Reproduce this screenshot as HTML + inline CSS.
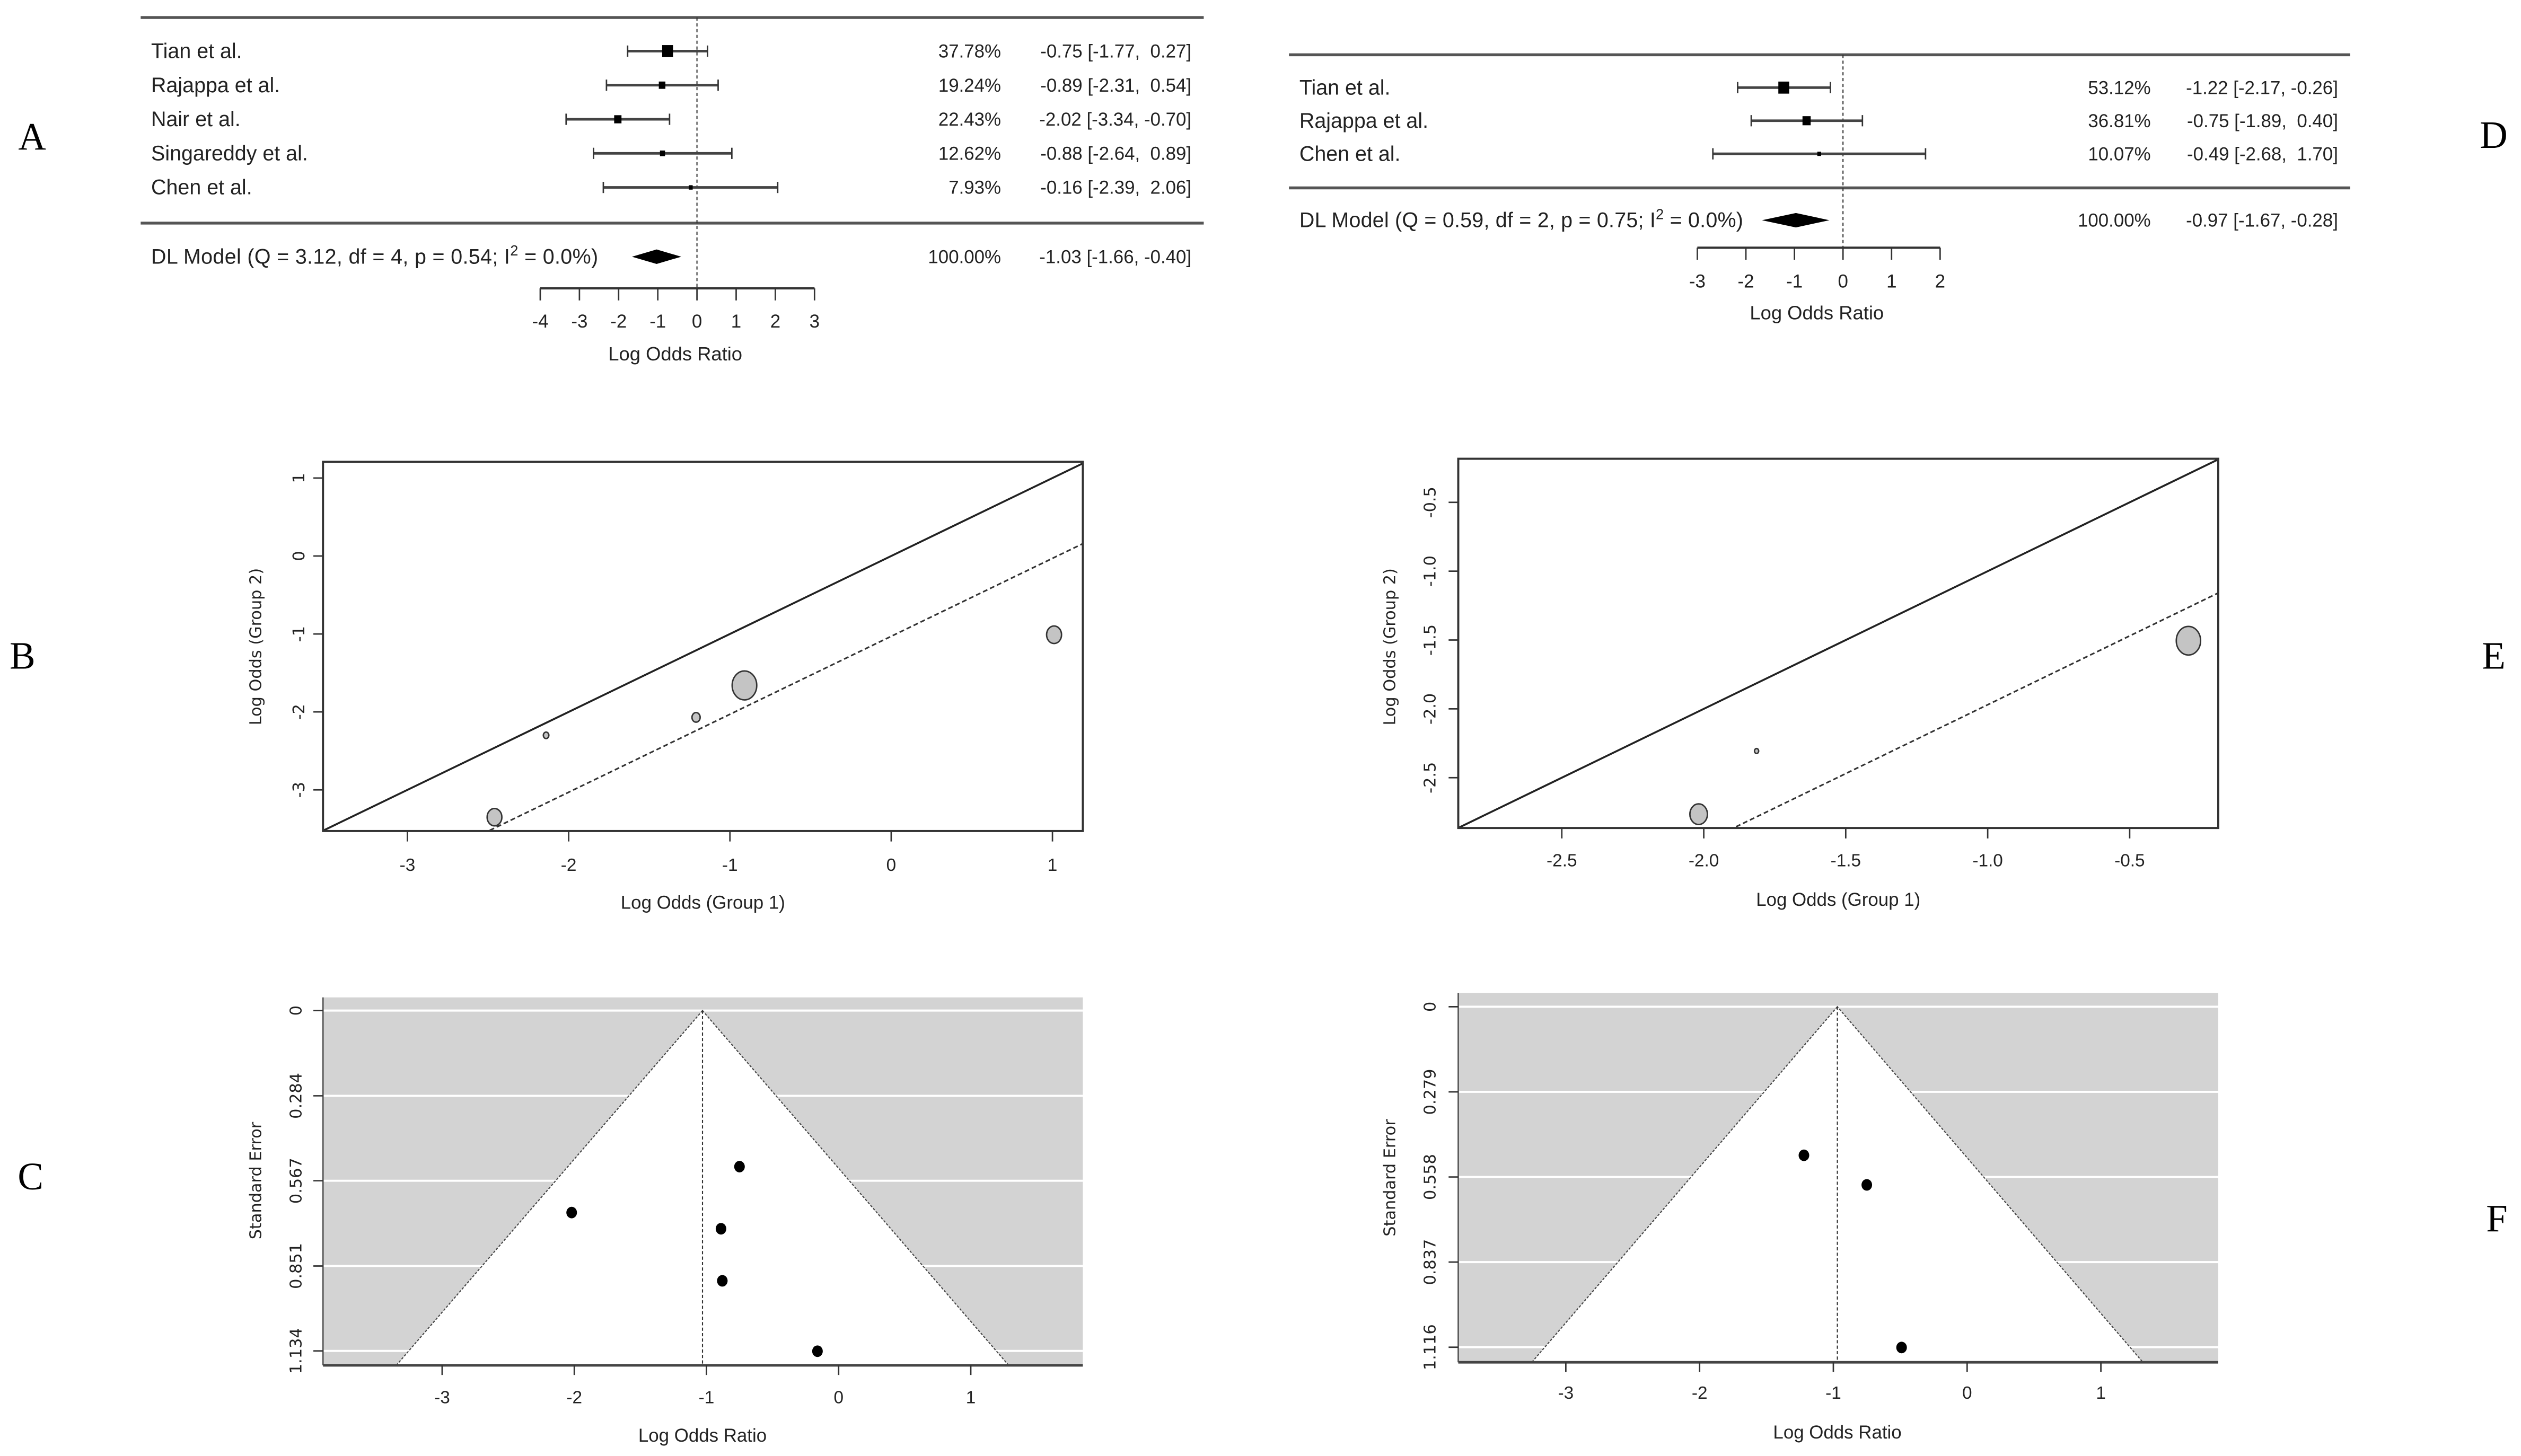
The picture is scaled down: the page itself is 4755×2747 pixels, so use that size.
<!DOCTYPE html>
<html><head><meta charset="utf-8"><style>
html,body{margin:0;padding:0;background:#fff;}
svg{display:block;}
text{font-family:"Liberation Sans",sans-serif;fill:#222;}
.ser{font-family:"Liberation Serif",serif;fill:#000;}
.dv{font-family:"DejaVu Sans","Liberation Sans",sans-serif;}
</style></head><body>
<svg id="fig" xmlns="http://www.w3.org/2000/svg" width="4755" height="2747" viewBox="0 0 1568 905.8" preserveAspectRatio="none">
<rect x="0" y="0" width="1568" height="905.8" fill="#fff"/>
<text class="ser" x="20" y="93" font-size="24" text-anchor="middle">A</text>
<text class="ser" x="14" y="416" font-size="24" text-anchor="middle">B</text>
<text class="ser" x="19" y="740" font-size="24" text-anchor="middle">C</text>
<text class="ser" x="1551" y="92" font-size="24" text-anchor="middle">D</text>
<text class="ser" x="1551" y="416" font-size="24" text-anchor="middle">E</text>
<text class="ser" x="1553" y="766" font-size="24" text-anchor="middle">F</text>
</svg>
<script>
// ---------- DATA ----------
const studiesA = ["Tian et al.","Rajappa et al.","Nair et al.","Singareddy et al.","Chen et al."];
const estA = [-0.75,-0.89,-2.02,-0.88,-0.16];
const lowA = [-1.77,-2.31,-3.34,-2.64,-2.39];
const highA = [0.27,0.54,-0.70,0.89,2.06];
const weightA = [37.78,19.24,22.43,12.62,7.93];
const pooledA = [-1.03,-1.66,-0.40];
const modelA = "DL Model (Q = 3.12, df = 4, p = 0.54; I";
const ticksA = [-4,-3,-2,-1,0,1,2,3];

const studiesD = ["Tian et al.","Rajappa et al.","Chen et al."];
const estD = [-1.22,-0.75,-0.49];
const lowD = [-2.17,-1.89,-2.68];
const highD = [-0.26,0.40,1.70];
const weightD = [53.12,36.81,10.07];
const pooledD = [-0.97,-1.67,-0.28];
const modelD = "DL Model (Q = 0.59, df = 2, p = 0.75; I";
const ticksD = [-3,-2,-1,0,1,2];

const g1B = [-2.46,-2.14,-1.21,-0.91,1.01];
const g2B = [-3.35,-2.30,-2.07,-1.66,-1.01];
const wB = [36,5,11,100,37];
const xTicksB = [-3,-2,-1,0,1];
const yTicksB = [-3,-2,-1,0,1];

const g1E = [-2.018,-1.814,-0.293];
const g2E = [-2.765,-2.306,-1.505];
const wE = [52,3,100];
const xTicksE = [-2.5,-2.0,-1.5,-1.0,-0.5];
const yTicksE = [-2.5,-2.0,-1.5,-1.0,-0.5];

const seC = [0.520,0.727,0.673,0.9005,1.135];
const seTicksC = ["0","0.284","0.567","0.851","1.134"];
const xTicksC = [-3,-2,-1,0,1];
const seD = [0.487,0.584,1.117];
const seTicksF = ["0","0.279","0.558","0.837","1.116"];
const xTicksF = [-3,-2,-1,0,1];

// ---------- HELPERS ----------
const NS = "http://www.w3.org/2000/svg";
const svg = document.getElementById('fig');
function mk(tag, parent, attrs){
  const e = document.createElementNS(NS, tag);
  for (const k in attrs) e.setAttribute(k, attrs[k]);
  (parent||svg).appendChild(e);
  return e;
}
function ciStr(e,l,h){
  const es=(e<0?'-':'')+Math.abs(e).toFixed(2);
  const ls=(l<0?'-':'')+Math.abs(l).toFixed(2);
  const hs=(h<0?'-':' ')+Math.abs(h).toFixed(2);
  return es+' ['+ls+', '+hs+']';
}

// ---------- FOREST ----------
function forest(cfg){
  const g = mk('g', svg, {});
  
  
  const X = v => cfg.x0 + v*cfg.unit;
  const maxW = Math.max(...cfg.w);
  let l = mk('line', g, {x1:cfg.lx1,x2:cfg.lx2,y1:cfg.top,y2:cfg.top,stroke:'#555','stroke-width':1.8});
  
  
  l = mk('line', g, {x1:cfg.lx1,x2:cfg.lx2,y1:cfg.sep,y2:cfg.sep,stroke:'#555','stroke-width':1.8});
  
  
  l = mk('line', g, {x1:X(0),x2:X(0),y1:cfg.top,y2:cfg.axis,stroke:'#333','stroke-width':0.7,'stroke-dasharray':'2,1.6'});
  
  
  cfg.names.forEach((n,i)=>{
    const y = cfg.row0 + i*cfg.step;
    let t = mk('text', g, {x:cfg.nameX, y:y+4.3, 'font-size':13});
    t.textContent = n;
    
    
    let ci = mk('line', g, {x1:X(cfg.lo[i]),x2:X(cfg.hi[i]),y1:y,y2:y,stroke:'#444','stroke-width':1.6});
    
    
    [cfg.lo[i],cfg.hi[i]].forEach(v=>{
      const c = mk('line', g, {x1:X(v),x2:X(v),y1:y-3.5,y2:y+3.5,stroke:'#333','stroke-width':0.9});
      
      
    });
    const s = 1.5 + 6*cfg.w[i]/maxW;
    const sq = mk('rect', g, {x:X(cfg.est[i])-s*0.45, y:y-s/2, width:s*0.9, height:s, fill:'#000'});
    
    
    t = mk('text', g, {x:cfg.pctX, y:y+4, 'font-size':11.5, 'text-anchor':'end'});
    t.textContent = cfg.w[i].toFixed(2)+'%';
    
    
    t = mk('text', g, {x:cfg.ciX, y:y+4, 'font-size':11.5, 'text-anchor':'end', style:'white-space:pre'});
    t.textContent = ciStr(cfg.est[i],cfg.lo[i],cfg.hi[i]);
    
    
  });
  const y = cfg.dl;
  let t = mk('text', g, {x:cfg.nameX, y:y+4.3, 'font-size':13, style:'white-space:pre', textLength:cfg.modelLen, lengthAdjust:'spacing'});
  t.textContent = cfg.model;
  const sup = mk('tspan', t, {dy:-5,'font-size':9});
  sup.textContent = '2';
  const rest = mk('tspan', t, {dy:5});
  rest.textContent = ' = 0.0%)';
  
  
  const p = cfg.pooled;
  const d = mk('polygon', g, {points:`${X(p[1])},${y} ${X(p[0])},${y-4.5} ${X(p[2])},${y} ${X(p[0])},${y+4.5}`, fill:'#000'});
  
  
  t = mk('text', g, {x:cfg.pctX, y:y+4, 'font-size':11.5, 'text-anchor':'end'});
  t.textContent = '100.00%';
  
  
  t = mk('text', g, {x:cfg.ciX, y:y+4, 'font-size':11.5, 'text-anchor':'end', style:'white-space:pre'});
  t.textContent = ciStr(p[0],p[1],p[2]);
  
  
  const tk = cfg.ticks;
  l = mk('line', g, {x1:X(tk[0]),x2:X(tk[tk.length-1]),y1:cfg.axis,y2:cfg.axis,stroke:'#333','stroke-width':1.4});
  
  
  tk.forEach(v=>{
    const m = mk('line', g, {x1:X(v),x2:X(v),y1:cfg.axis,y2:cfg.axis+7.5,stroke:'#333','stroke-width':0.9});
    
    
    const tl = mk('text', g, {x:X(v), y:cfg.tickY+4, 'font-size':11.5, 'text-anchor':'middle'});
    tl.textContent = v<0?('-'+Math.abs(v)):String(v);
    
    
  });
  t = mk('text', g, {x:cfg.titleX, y:cfg.titleY+4, 'font-size':12, 'text-anchor':'middle'});
  t.textContent = 'Log Odds Ratio';
  
  
}
forest({name:'forest-plot-a', names:studiesA, est:estA, lo:lowA, hi:highA, w:weightA, pooled:pooledA, model:modelA, ticks:ticksA, modelLen:278,
  x0:433.5, unit:24.37, lx1:87.5, lx2:748.7, top:10.9, row0:31.8, step:21.2, sep:138.8, dl:159.7, axis:179.4, tickY:199.8, titleY:220.3, titleX:420,
  nameX:94, pctX:622.6, ciX:741});
forest({name:'forest-plot-d', names:studiesD, est:estD, lo:lowD, hi:highD, w:weightD, pooled:pooledD, model:modelD, ticks:ticksD, modelLen:276,
  x0:1146.3, unit:30.2, lx1:801.7, lx2:1461.7, top:34.1, row0:54.5, step:20.6, sep:116.9, dl:137, axis:154.1, tickY:174.9, titleY:194.6, titleX:1130,
  nameX:808.2, pctX:1337.7, ciX:1454.2});

// ---------- L'ABBE ----------
function labbe(cfg){
  const g = mk('g', svg, {});
  
  
  const X = v => cfg.xz + v*cfg.xu;
  const Y = v => cfg.yz - v*cfg.yu;
  const cid = cfg.name+'-clip';
  const cp = mk('clipPath', g, {id:cid});
  mk('rect', cp, {x:cfg.L,y:cfg.T,width:cfg.R-cfg.L,height:cfg.B-cfg.T});
  const v0 = (cfg.L-cfg.xz)/cfg.xu, v1 = (cfg.R-cfg.xz)/cfg.xu;
  let l = mk('line', g, {x1:X(v0),y1:Y(v0),x2:X(v1),y2:Y(v1),stroke:'#222','stroke-width':1.2,'clip-path':`url(#${cid})`});
  
  
  l = mk('line', g, {x1:X(v0),y1:Y(v0+cfg.pooled),x2:X(v1),y2:Y(v1+cfg.pooled),stroke:'#333','stroke-width':1,'stroke-dasharray':'3,1.8','clip-path':`url(#${cid})`});
  
  
  cfg.g1.forEach((v,i)=>{
    const r = cfg.rmax*Math.sqrt(cfg.w[i]/100);
    const c = mk('ellipse', g, {cx:X(v),cy:Y(cfg.g2[i]),rx:r*0.85,ry:r,fill:'#c4c4c4',stroke:'#333','stroke-width':0.9});
    
    
  });
  const box = mk('rect', g, {x:cfg.L,y:cfg.T,width:cfg.R-cfg.L,height:cfg.B-cfg.T,fill:'none',stroke:'#333','stroke-width':1.3});
  
  
  cfg.xt.forEach(v=>{
    const m = mk('line', g, {x1:X(v),x2:X(v),y1:cfg.B,y2:cfg.B+6.5,stroke:'#333','stroke-width':0.9});
    
    
    const t = mk('text', g, {x:X(v),y:cfg.xlY+4,'font-size':11,'text-anchor':'middle'});
    t.textContent = (v<0?'-':'')+(cfg.dec?Math.abs(v).toFixed(1):Math.abs(v));
    
    
  });
  cfg.yt.forEach(v=>{
    const m = mk('line', g, {x1:cfg.L-6,x2:cfg.L,y1:Y(v),y2:Y(v),stroke:'#333','stroke-width':0.9});
    
    
    const t = mk('text', g, {x:0,y:0,'font-size':10,'text-anchor':'middle',class:'dv',transform:`translate(${cfg.ylX+3.7},${Y(v)}) rotate(-90)`});
    t.textContent = (v<0?'-':'')+(cfg.dec?Math.abs(v).toFixed(1):Math.abs(v));
    
    
  });
  let t = mk('text', g, {x:(cfg.L+cfg.R)/2,y:cfg.xtY+4,'font-size':11.5,'text-anchor':'middle'});
  t.textContent = 'Log Odds (Group 1)';
  
  
  t = mk('text', g, {x:0,y:0,'font-size':10,'text-anchor':'middle',class:'dv',transform:`translate(${cfg.ytX+3.7},${cfg.ytY}) rotate(-90)`});
  t.textContent = 'Log Odds (Group 2)';
  
  
}
labbe({name:'labbe-plot-b', g1:g1B, g2:g2B, w:wB, xt:xTicksB, yt:yTicksB, pooled:pooledA[0], rmax:9, dec:false,
  L:200.9,R:673.5,T:287.3,B:517, xz:554.3,xu:100.3, yz:345.9,yu:48.5, xlY:537.7, xtY:561.4, ylX:185.5, ytX:158.7, ytY:402.3});
labbe({name:'labbe-plot-e', g1:g1E, g2:g2E, w:wE, xt:xTicksE, yt:yTicksE, pooled:pooledD[0], rmax:8.9, dec:true,
  L:907,R:1379.7,T:285.4,B:515.1, xz:1412.9,xu:176.6, yz:269.7,yu:85.65, xlY:535, xtY:559.5, ylX:889.2, ytX:864.1, ytY:402.4});

// ---------- FUNNEL ----------
function funnel(cfg){
  const g = mk('g', svg, {});
  
  
  const X = v => cfg.xz + v*cfg.xu;
  const Y = s => cfg.yz + s*cfg.yu;
  const seB = (cfg.B-cfg.yz)/cfg.yu;
  let r = mk('rect', g, {x:cfg.L,y:cfg.T,width:cfg.R-cfg.L,height:cfg.B-cfg.T,fill:'#d3d3d3'});
  
  
  cfg.seTicks.forEach(s=>{
    const gl = mk('line', g, {x1:cfg.L,x2:cfg.R,y1:Y(+s),y2:Y(+s),stroke:'#fff','stroke-width':1.3});
    
    
  });
  const p = cfg.pooled;
  const tri = mk('polygon', g, {points:`${X(p)},${Y(0)} ${X(p-1.96*seB)},${cfg.B} ${X(p+1.96*seB)},${cfg.B}`, fill:'#fff', stroke:'#444','stroke-width':0.7,'stroke-dasharray':'1.5,1'});
  
  
  let l = mk('line', g, {x1:X(p),x2:X(p),y1:Y(0),y2:cfg.B,stroke:'#333','stroke-width':0.7,'stroke-dasharray':'2,1.4'});
  
  
  cfg.est.forEach((v,i)=>{
    const c = mk('ellipse', g, {cx:X(v),cy:Y(cfg.se[i]),rx:3.3,ry:3.6,fill:'#000'});
    
    
  });
  l = mk('line', g, {x1:cfg.L,x2:cfg.L,y1:cfg.T,y2:cfg.B,stroke:'#555','stroke-width':0.9});
  
  
  l = mk('line', g, {x1:cfg.L,x2:cfg.R,y1:cfg.B,y2:cfg.B,stroke:'#444','stroke-width':1.6});
  
  
  cfg.xt.forEach(v=>{
    const m = mk('line', g, {x1:X(v),x2:X(v),y1:cfg.B,y2:cfg.B+6,stroke:'#333','stroke-width':0.9});
    
    
    const t = mk('text', g, {x:X(v),y:cfg.xlY+4,'font-size':11,'text-anchor':'middle'});
    t.textContent = v<0?('-'+Math.abs(v)):String(v);
    
    
  });
  cfg.seTicks.forEach(s=>{
    const m = mk('line', g, {x1:cfg.L-6,x2:cfg.L,y1:Y(+s),y2:Y(+s),stroke:'#333','stroke-width':0.9});
    
    
    const t = mk('text', g, {x:0,y:0,'font-size':10,'text-anchor':'middle',class:'dv',transform:`translate(${cfg.ylX+3.7},${Y(+s)}) rotate(-90)`});
    t.textContent = s;
    
    
  });
  let t = mk('text', g, {x:X(p),y:cfg.xtY+4,'font-size':11.5,'text-anchor':'middle'});
  t.textContent = 'Log Odds Ratio';
  
  
  t = mk('text', g, {x:0,y:0,'font-size':10,'text-anchor':'middle',class:'dv',transform:`translate(${cfg.ytX+3.7},${cfg.ytY}) rotate(-90)`});
  t.textContent = 'Standard Error';
  
  
}
funnel({name:'funnel-plot-c', est:estA, se:seC, seTicks:seTicksC, xt:xTicksC, pooled:pooledA[0],
  L:200.9,R:673.5,T:620.5,B:849.4, xz:521.6,xu:82.2, yz:628.7,yu:186.7, xlY:869, xtY:892.9, ylX:183.7, ytX:158.7, ytY:734.5});
funnel({name:'funnel-plot-f', est:estD, se:seD, seTicks:seTicksF, xt:xTicksF, pooled:pooledD[0],
  L:907,R:1379.7,T:617.7,B:847.5, xz:1223.5,xu:83.2, yz:626.3,yu:189.8, xlY:866.2, xtY:890.9, ylX:889.2, ytX:864.1, ytY:732.7});
</script>
</body></html>
